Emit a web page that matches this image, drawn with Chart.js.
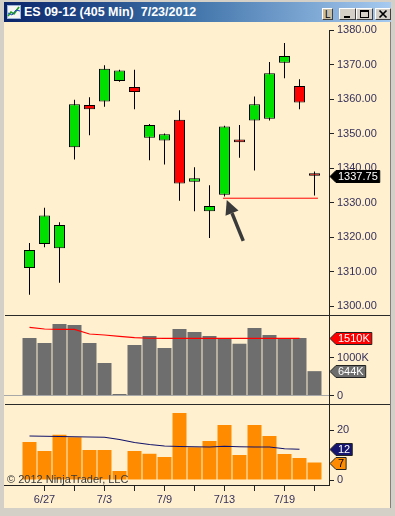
<!DOCTYPE html>
<html>
<head>
<meta charset="utf-8">
<script src="https://cdn.jsdelivr.net/npm/chart.js@4.4.1/dist/chart.umd.min.js"></script>
<style>
  html, body { margin: 0; padding: 0; }
  body { width: 395px; height: 516px; position: relative; overflow: hidden; background: #d4d0c8;
         font-family: "Liberation Sans", Arial, sans-serif; }
  #title { position: absolute; left: 4px; top: 2px; width: 387px; height: 20px;
           background: linear-gradient(to right, #0a246a 0%, #3a6ea5 45%, #a6caf0 100%); }
  #ttext { position: absolute; left: 20px; top: 0; line-height: 20px; color: #fff; font-weight: bold; font-size: 12.5px; white-space: pre; }
  #icon { position: absolute; left: 3px; top: 3px; width: 14px; height: 14px; }
  .btn { position: absolute; top: 6px; height: 12px; background: #d4d0c8; box-sizing: border-box;
         border: 1px solid; border-color: #fff #404040 #404040 #fff; }
  .btn svg { position: absolute; left: 0; top: 0; }
  #pane { position: absolute; left: 4px; top: 22px; width: 386px; height: 486px; background: #fff1d0;
          border-right: 1px solid #808080; }
  canvas { position: absolute; left: 4px; }
  .sep { position: absolute; left: 5px; width: 385px; height: 1px; background: #2a2a2a; z-index: 3; }
  #copy { position: absolute; left: 7px; top: 473px; font-size: 11px; line-height: 13px; color: #3a3a3a; z-index: 3; white-space: pre; }
</style>
</head>
<body>
<div id="title">
  <svg id="icon" width="14" height="14" viewBox="0 0 14 14">
    <rect x="0.5" y="0.5" width="13" height="13" fill="#f4f4f4" stroke="#9db3d8"/>
    <polyline points="1,11 4,7 7,9 12,2" fill="none" stroke="#1aa31a" stroke-width="1.6"/>
    <polyline points="1,8 5,10 9,5 13,6" fill="none" stroke="#2040c0" stroke-width="1"/>
  </svg>
  <div id="ttext">ES 09-12 (405 Min)  7/23/2012</div>
  <div class="btn" style="left:318px; width:11px; height:12px; background:#c8bea4;">
    <svg width="9" height="10"><text x="2" y="9" font-size="10" font-family="Liberation Sans, Arial" fill="#000">L</text></svg>
  </div>
  <div class="btn" style="left:335px; width:17px;">
    <svg width="15" height="10"><rect x="4" y="7" width="6" height="2" fill="#000"/></svg>
  </div>
  <div class="btn" style="left:352px; width:17px;">
    <svg width="15" height="10"><rect x="3.5" y="1.5" width="8" height="7" fill="none" stroke="#000"/><rect x="3" y="1" width="9" height="2" fill="#000"/></svg>
  </div>
  <div class="btn" style="left:371px; width:16px;">
    <svg width="14" height="10"><path d="M3.5,1.5 L10.5,8.5 M10.5,1.5 L3.5,8.5" stroke="#000" stroke-width="1.7"/></svg>
  </div>
</div>
<div id="pane"></div>
<canvas id="priceChart" width="386" height="293" style="top:22px"></canvas>
<canvas id="volChart" width="386" height="89" style="top:315px"></canvas>
<canvas id="oscChart" width="386" height="104" style="top:404px"></canvas>
<div class="sep" style="top:315px"></div>
<div class="sep" style="top:404px"></div>
<div id="copy">© 2012 NinjaTrader, LLC</div>

<script>
// bars: one per session
const dates = ['6/26','6/27','6/28','6/29','7/2','7/3','7/4','7/5','7/6','7/9',
               '7/10','7/11','7/12','7/13','7/16','7/17','7/18','7/19','7/20','7/23'];
const tickBars  = [1, 3, 5, 7, 9, 11, 13, 15, 17, 19];
const labelBars = [1, 5, 9, 13, 17];

const opens  = [1311.00, 1318.00, 1316.75, 1346.00, 1358.25, 1359.25, 1365.25, 1363.50, 1348.75, 1348.00,
                1354.00, 1336.00, 1327.50, 1332.25, 1348.25, 1353.75, 1354.25, 1370.50, 1363.75, 1338.50];
const highs  = [1318.25, 1328.50, 1324.25, 1359.75, 1360.50, 1369.75, 1368.50, 1368.50, 1352.75, 1350.00,
                1356.75, 1340.25, 1335.00, 1352.25, 1352.50, 1360.75, 1370.75, 1376.25, 1365.75, 1339.00];
const lows   = [1303.25, 1317.00, 1306.75, 1342.50, 1349.50, 1357.75, 1365.00, 1357.00, 1342.25, 1341.00,
                1330.50, 1327.50, 1319.75, 1331.75, 1343.00, 1339.25, 1353.75, 1366.00, 1357.00, 1332.00];
const closes = [1316.25, 1326.25, 1323.50, 1358.50, 1357.00, 1368.75, 1368.25, 1362.00, 1352.50, 1349.75,
                1335.50, 1337.00, 1329.00, 1352.00, 1347.50, 1358.50, 1367.50, 1372.50, 1359.00, 1337.75];

const volumes   = [1521000, 1389000, 1892000, 1865000, 1389000, 860000, 40000, 1336000, 1574000, 1257000,
                   1759000, 1680000, 1574000, 1503000, 1370000, 1786000, 1601000, 1521000, 1521000, 644000];
const volumeAvg = [1804000, 1759000, 1751000, 1751000, 1627000, 1601000, 1566000, 1529000, 1515000, 1512000,
                   1512000, 1512000, 1512000, 1512000, 1512000, 1512000, 1511000, 1510000, 1510000];

const oscValues = [15.2, 11.6, 18.1, 17.1, 12.0, 12.0, 3.6, 11.6, 10.5, 9.2,
                   26.8, 13.1, 15.6, 22.0, 10.0, 22.0, 17.6, 10.4, 8.8, 7.0];
const oscAvg    = [17.6, 17.5, 17.4, 17.3, 17.2, 17.1, 16.2, 15.0, 14.2, 13.6,
                   13.4, 13.3, 13.2, 13.5, 13.3, 13.2, 13.2, 12.5, 12.3];

const priceTicks  = [1300, 1310, 1320, 1330, 1340, 1350, 1360, 1370, 1380];
const volumeTicks = [0, 1000000];
const oscTicks    = [0, 20];

// drawn objects (bar index, price)
const supportLine = [[12.9, 1331.25], [19.23, 1331.25]];
const arrowFrom   = [14.25, 1318.9];
const arrowTo     = [13.15, 1330.7];

const xMin = -1.7, xMax = 19.967;
const axisColor = '#222222';
const textColor = '#36305a';
const upColor = '#00e000', downColor = '#ff0000';

Chart.defaults.font.family = '"Liberation Sans", Arial, sans-serif';
Chart.defaults.font.size = 11;

// pointed value tags on the right axis
const tagPlugin = {
    id: 'tags',
    afterDraw(chart, args, opts) {
        const ctx = chart.ctx;
        const y = chart.scales.y;
        const x0 = chart.chartArea.right + 1;
        ctx.save();
        ctx.font = '11px "Liberation Sans", Arial, sans-serif';
        (opts.items || []).forEach(t => {
            const py = Math.round(y.getPixelForValue(t.value)) + 0.5;
            const w = ctx.measureText(t.text).width + 4, h = 12, p = 6;
            ctx.beginPath();
            ctx.moveTo(x0, py);
            ctx.lineTo(x0 + p, py - h / 2);
            ctx.lineTo(x0 + p + w, py - h / 2);
            ctx.lineTo(x0 + p + w, py + h / 2);
            ctx.lineTo(x0 + p, py + h / 2);
            ctx.closePath();
            ctx.fillStyle = t.bg;
            ctx.fill();
            ctx.strokeStyle = t.edge || '#222';
            ctx.lineWidth = 1;
            ctx.stroke();
            ctx.fillStyle = t.fg;
            ctx.textBaseline = 'middle';
            ctx.textAlign = 'left';
            ctx.fillText(t.text, x0 + p + 2, py + 0.5);
        });
        ctx.restore();
    }
};

const arrowPlugin = {
    id: 'arrow',
    afterDatasetsDraw(chart, args, opts) {
        if (!opts.from) return;
        const {x, y} = chart.scales;
        const ctx = chart.ctx;
        const x1 = x.getPixelForValue(opts.from[0]), y1 = y.getPixelForValue(opts.from[1]);
        const x2 = x.getPixelForValue(opts.to[0]), y2 = y.getPixelForValue(opts.to[1]);
        const a = Math.atan2(y2 - y1, x2 - x1);
        const head = 14, half = 7;
        const bx = x2 - head * Math.cos(a), by = y2 - head * Math.sin(a);
        ctx.save();
        ctx.strokeStyle = ctx.fillStyle = '#3a3a3a';
        ctx.lineWidth = 3.5;
        ctx.beginPath();
        ctx.moveTo(x1, y1);
        ctx.lineTo(bx, by);
        ctx.stroke();
        ctx.beginPath();
        ctx.moveTo(x2, y2);
        ctx.lineTo(bx + half * Math.sin(a), by - half * Math.cos(a));
        ctx.lineTo(bx - half * Math.sin(a), by + half * Math.cos(a));
        ctx.closePath();
        ctx.fill();
        ctx.restore();
    }
};

function xScale(show) {
    return {
        type: 'linear', display: show, min: xMin, max: xMax, offset: false,
        afterBuildTicks: s => { s.ticks = tickBars.map(v => ({ value: v })); },
        afterFit: s => { if (show) s.height = 23; s.paddingLeft = 0; s.paddingRight = 0; },
        grid: { offset: false, drawOnChartArea: false, drawTicks: true, tickLength: 6, color: axisColor },
        border: { display: true, color: axisColor },
        ticks: { autoSkip: false, maxRotation: 0, minRotation: 0, padding: 2, color: textColor,
                 callback: v => labelBars.includes(v) ? dates[v] : '' }
    };
}

function yScale(min, max, ticks, fmt, zeroLine) {
    return {
        position: 'right', min: min, max: max,
        afterBuildTicks: s => { s.ticks = ticks.map(v => ({ value: v })); },
        afterFit: s => { s.width = 61; s.paddingTop = 0; s.paddingBottom = 0; },
        grid: {
            drawOnChartArea: !!zeroLine, drawTicks: true, tickLength: 5, tickColor: axisColor,
            color: c => (zeroLine && c.tick && c.tick.value === 0) ? zeroLine : 'rgba(0,0,0,0)'
        },
        border: { display: true, color: axisColor },
        ticks: { padding: 3, color: textColor, callback: fmt }
    };
}

function baseOptions(padTop) {
    return {
        responsive: false, animation: false, devicePixelRatio: 1, events: [],
        layout: { padding: { top: padTop, left: 0, right: 0, bottom: 0 } },
        plugins: { legend: { display: false }, tooltip: { enabled: false } }
    };
}

const kfmt = v => v === 0 ? '0' : Math.round(v / 1000) + 'K';
const last = arr => arr[arr.length - 1];

// --- price panel ---
const priceOpts = baseOptions(8);
priceOpts.scales = { x: xScale(false), y: yScale(1297.4, 1380, priceTicks, v => v.toFixed(2)) };
priceOpts.plugins.tags = { items: [{ value: last(closes), text: last(closes).toFixed(2), bg: '#000', fg: '#fff', edge: '#000' }] };
priceOpts.plugins.arrow = { from: arrowFrom, to: arrowTo };

new Chart(document.getElementById('priceChart'), {
    type: 'bar',
    data: {
        datasets: [
            { type: 'line', data: supportLine.map(p => ({ x: p[0], y: p[1] })), borderColor: '#ff0000',
              borderWidth: 1, pointRadius: 0, order: 0 },
            { data: opens.map((o, i) => ({ x: i, y: [o, closes[i]] })),
              backgroundColor: opens.map((o, i) => closes[i] >= o ? upColor : downColor),
              borderColor: '#000', borderWidth: 1, borderSkipped: false, grouped: false,
              barThickness: 11, maxBarThickness: 11, inflateAmount: 0, order: 1 },
            { data: lows.map((l, i) => ({ x: i, y: [l, highs[i]] })),
              backgroundColor: '#000', borderWidth: 0, grouped: false,
              barThickness: 1, maxBarThickness: 1, inflateAmount: 0, order: 2 }
        ]
    },
    options: priceOpts,
    plugins: [tagPlugin, arrowPlugin]
});

// --- volume panel ---
const volOpts = baseOptions(0);
volOpts.scales = { x: xScale(false), y: yScale(-225000, 2130000, volumeTicks, kfmt, '#a8a8a8') };
volOpts.plugins.tags = { items: [
    { value: last(volumeAvg), text: kfmt(last(volumeAvg)), bg: '#ff0000', fg: '#fff' },
    { value: last(volumes), text: kfmt(last(volumes)), bg: '#6e6e6e', fg: '#fff' }
] };

new Chart(document.getElementById('volChart'), {
    type: 'bar',
    data: {
        datasets: [
            { type: 'line', data: volumeAvg.map((v, i) => ({ x: i, y: v })), borderColor: '#ff0000',
              borderWidth: 1.2, pointRadius: 0, order: 0 },
            { data: volumes.map((v, i) => ({ x: i, y: v })), backgroundColor: '#6e6e6e',
              borderWidth: 0, barThickness: 14, inflateAmount: 0, order: 1 }
        ]
    },
    options: volOpts,
    plugins: [tagPlugin]
});

// --- lower indicator panel ---
const oscOpts = baseOptions(0);
oscOpts.scales = { x: xScale(true), y: yScale(-2, 30.4, oscTicks, v => String(v)) };
oscOpts.plugins.tags = { items: [
    { value: last(oscValues), text: String(Math.round(last(oscValues))), bg: '#ff8c00', fg: '#000' },
    { value: last(oscAvg), text: String(Math.round(last(oscAvg))), bg: '#14146e', fg: '#fff' }
] };

new Chart(document.getElementById('oscChart'), {
    type: 'bar',
    data: {
        datasets: [
            { type: 'line', data: oscAvg.map((v, i) => ({ x: i, y: v })), borderColor: '#12126a',
              borderWidth: 1.2, pointRadius: 0, order: 0 },
            { data: oscValues.map((v, i) => ({ x: i, y: v })), backgroundColor: '#ff8c00',
              borderWidth: 0, barThickness: 14, inflateAmount: 0, order: 1 }
        ]
    },
    options: oscOpts,
    plugins: [tagPlugin]
});
</script>
</body>
</html>
